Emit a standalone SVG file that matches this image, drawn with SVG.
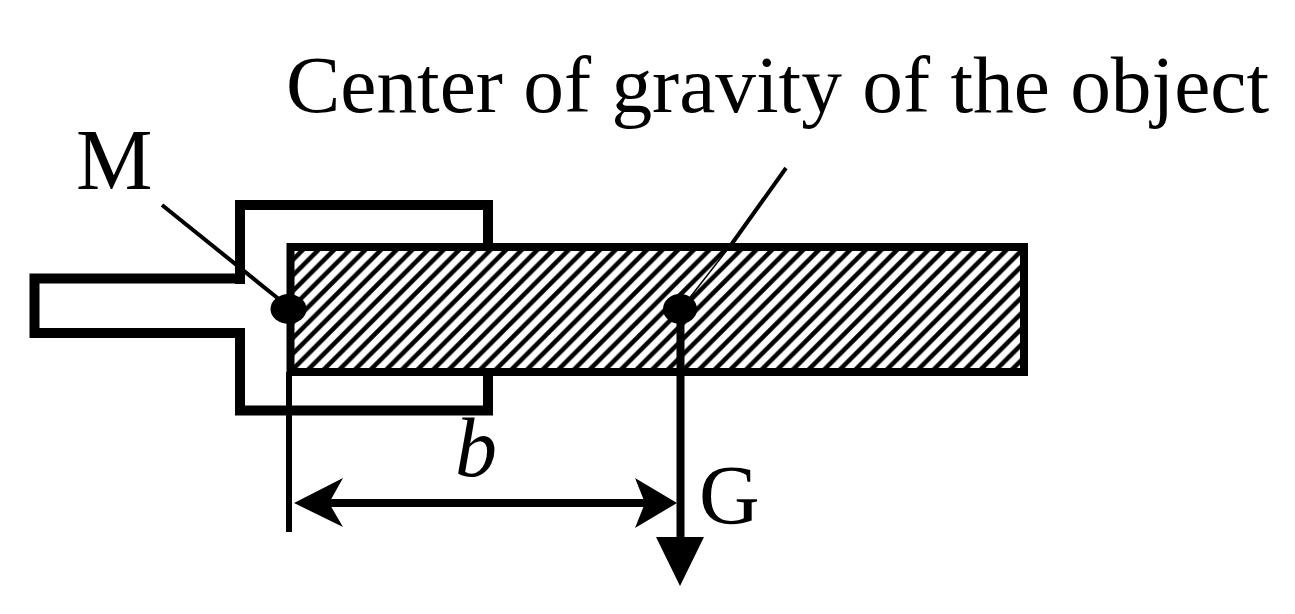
<svg xmlns="http://www.w3.org/2000/svg" width="1295" height="614" viewBox="0 0 1295 614">
<style>
text{font-family:"Liberation Serif","Times New Roman",serif;fill:#000}
.o{fill:none;stroke:#000;stroke-width:10;stroke-linejoin:miter;stroke-linecap:butt}
.l{fill:none;stroke:#000;stroke-width:4}
.d{fill:none;stroke:#000;stroke-width:8}
.v{fill:none;stroke:#000;stroke-width:6}
</style>
<defs>
<pattern id="hatch" patternUnits="userSpaceOnUse" width="15.64" height="15.64" x="290" y="247">
<path d="M-4 4L4-4M-4 19.64L19.64-4M11.64 19.64L19.64 11.64" stroke="#000" stroke-width="4.500" fill="none"/>
</pattern>
</defs>
<rect width="1295" height="614" fill="#fff"/>
<g id="holder"><path class="o" d="M240 278.500H34.500V333H240V410.500H488V372M488 247V205H240V284"/></g>
<g id="object"><rect x="290.500" y="247" width="733.500" height="125" fill="url(#hatch)" stroke="#000" stroke-width="8"/></g>
<g id="connectors">
<path class="l" d="M162 205L280 300"/>
<path class="l" d="M786 168L731 245"/>
<path d="M731 245L684 305" stroke="#000" stroke-width="1.500" fill="none"/>
<path class="v" d="M289 372V532"/>
<path class="d" d="M325 503H650"/>
<path d="M294 503L343 478L329 503L343 527Z"/>
<path d="M677 503L635 478L645 503L635 528Z"/>
<path class="d" d="M680.500 309V540"/>
<path d="M656 537H704L680 586Z"/>
</g>
<g id="point-m"><ellipse cx="288.500" cy="309" rx="18" ry="15"/></g>
<g id="point-g"><ellipse cx="680" cy="309" rx="17" ry="15"/></g>
<g id="labels">
<text id="title" x="286" y="112" font-size="80" textLength="983" lengthAdjust="spacingAndGlyphs">Center of gravity of the object</text>
<text id="label-m" x="76" y="189" font-size="86">M</text>
<text id="label-b" x="455" y="476" font-size="84" font-style="italic">b</text>
<text id="label-g" x="699" y="524" font-size="84">G</text>
</g>
</svg>
